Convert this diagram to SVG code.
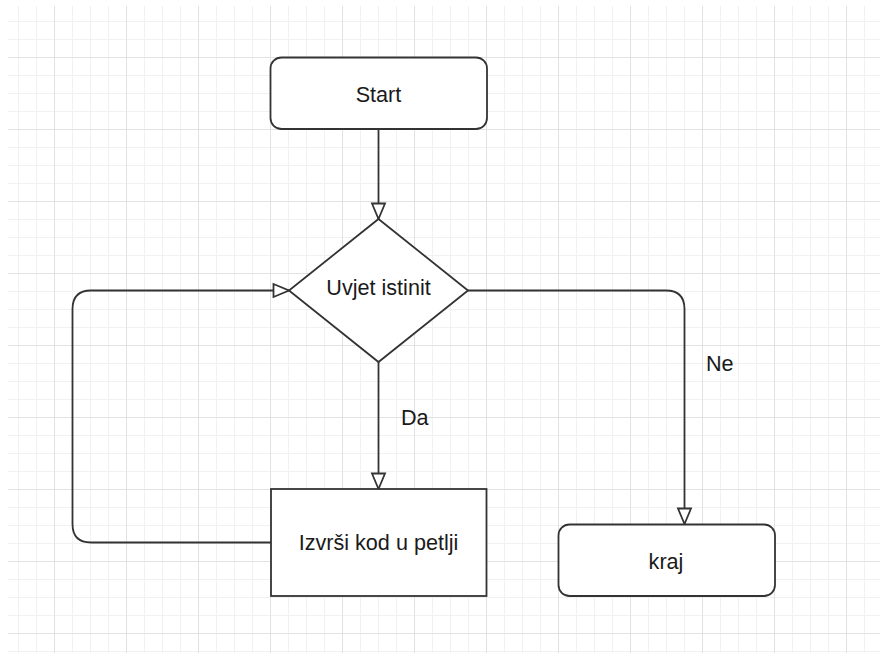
<svg xmlns="http://www.w3.org/2000/svg" width="880" height="653" viewBox="0 0 880 653">
<style>
.shape{fill:#ffffff;stroke:#333333;stroke-width:1.8}
.edge{fill:none;stroke:#333333;stroke-width:1.8}
.lbl{font-family:"Liberation Sans",Arial,Helvetica,sans-serif;font-size:21.6px;fill:#1a1a1a;text-anchor:middle}
.elbl{font-family:"Liberation Sans",Arial,Helvetica,sans-serif;font-size:21.6px;fill:#1a1a1a}
</style>
<defs>
<pattern id="grid" x="18" y="21" width="72" height="72" patternUnits="userSpaceOnUse">
<rect x="0" y="0" width="1" height="72" fill="#f1f1f1"/>
<rect x="18" y="0" width="1" height="72" fill="#f1f1f1"/>
<rect x="54" y="0" width="1" height="72" fill="#f1f1f1"/>
<rect x="0" y="0" width="72" height="1" fill="#f1f1f1"/>
<rect x="0" y="18" width="72" height="1" fill="#f1f1f1"/>
<rect x="0" y="54" width="72" height="1" fill="#f1f1f1"/>
<rect x="36" y="0" width="1" height="72" fill="#e2e2e2"/>
<rect x="0" y="36" width="72" height="1" fill="#e2e2e2"/>
</pattern>
<marker id="arr" viewBox="0 0 16 14" refX="16" refY="7" markerWidth="16" markerHeight="14" markerUnits="userSpaceOnUse" orient="auto" overflow="visible">
<path d="M0.5,0.5 L16,7 L0.5,13.5 Z" fill="#ffffff" stroke="#333333" stroke-width="1.8" stroke-linejoin="miter"/>
</marker>
</defs>
<rect x="0" y="0" width="880" height="653" fill="#ffffff"/>
<rect x="8" y="6" width="872" height="647" fill="url(#grid)"/>
<g id="connectors">
<path class="edge" d="M378.5 129 V219" marker-end="url(#arr)"/>
<path class="edge" d="M378.5 362 V489" marker-end="url(#arr)"/>
<path class="edge" d="M468 290.5 H666 Q684.5 290.5 684.5 309 V524" marker-end="url(#arr)"/>
<path class="edge" d="M271 542.5 H91 Q72.5 542.5 72.5 524 V309 Q72.5 290.5 91 290.5 H289" marker-end="url(#arr)"/>
<text class="elbl" x="401" y="425">Da</text>
<text class="elbl" x="706" y="371">Ne</text>
</g>
<g id="start">
<rect class="shape" x="270.5" y="57.5" width="216.5" height="71.5" rx="11" ry="11"/>
<text class="lbl" x="378.5" y="101.5">Start</text>
</g>
<g id="uvjet">
<polygon class="shape" points="378.5,219 468,290.5 378.5,362 289,290.5"/>
<text class="lbl" x="378.5" y="295">Uvjet istinit</text>
</g>
<g id="izvrsi">
<rect class="shape" x="271" y="489" width="215.5" height="107"/>
<text class="lbl" x="378.5" y="550">Izvrši kod u petlji</text>
</g>
<g id="kraj">
<rect class="shape" x="558.5" y="524.5" width="216.5" height="71.5" rx="11" ry="11"/>
<text class="lbl" x="666" y="568.5">kraj</text>
</g>
</svg>
